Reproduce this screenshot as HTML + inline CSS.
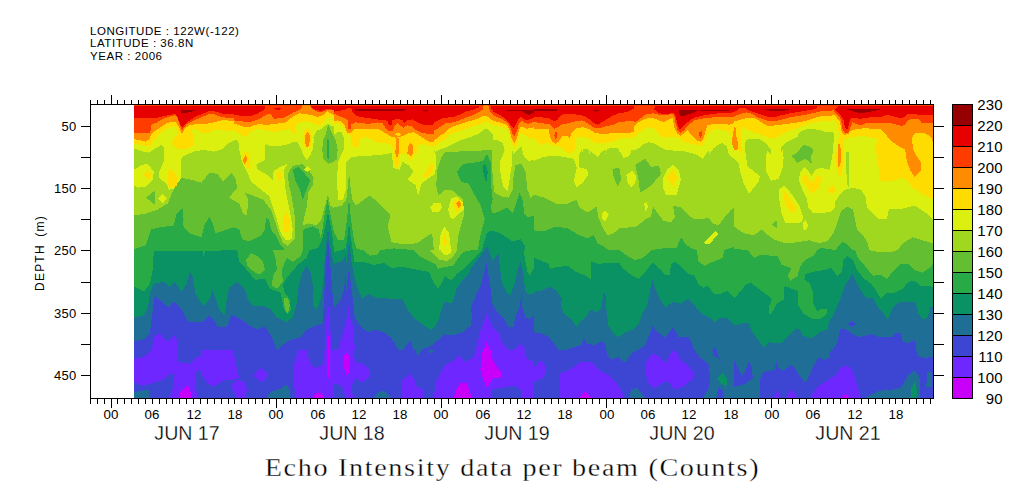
<!DOCTYPE html>
<html><head><meta charset="utf-8"><title>Echo Intensity data per beam (Counts)</title>
<style>
html,body{margin:0;padding:0;background:#fff}
body{width:1009px;height:504px;position:relative;overflow:hidden;font-family:"Liberation Sans",sans-serif;color:#000}
svg{position:absolute;left:0;top:0}
.dl.t,.ttl.t{-webkit-text-stroke:0.3px #fff}
.hdr{position:absolute;left:90px;top:24.6px;font-size:11.5px;line-height:12.7px;white-space:pre;letter-spacing:0.55px}
.cb{position:absolute;left:952.8px;font-size:15px;line-height:14px;width:50px;text-align:right;letter-spacing:0.2px}
.yl{position:absolute;left:26.5px;width:50px;text-align:right;font-size:13px;line-height:14px;letter-spacing:0.3px}
.hl{position:absolute;top:408px;width:30px;text-align:center;font-size:13.3px;line-height:14px;letter-spacing:0.2px}
.dl{position:absolute;top:422.6px;width:100px;text-align:center;font-size:19.6px;line-height:20px;letter-spacing:0px}
.ylab{position:absolute;left:39.5px;top:252.5px;width:0;height:0}
.ylab span{position:absolute;display:block;width:120px;left:-60px;top:-7px;text-align:center;font-size:12px;line-height:14px;transform:rotate(-90deg);letter-spacing:1.2px;word-spacing:3px;white-space:nowrap}
.ttl{position:absolute;left:-100px;top:452.6px;width:1225px;text-align:center;font-family:"Liberation Serif",serif;font-size:24.5px;line-height:30px;letter-spacing:1.44px;white-space:nowrap;transform:scaleX(1.15);transform-origin:612.5px 0}
</style></head><body>
<svg width="1009" height="504" viewBox="0 0 1009 504">
<g shape-rendering="crispEdges">
<rect x="134" y="104" width="800" height="295" fill="#e60000"/>
<rect x="134" y="105" width="800" height="1" fill="#ff3c00"/>
<polygon fill="#ff3c00" points="134.0,117.9 134.0,117.9 156.8,117.9 162.8,116.4 168.7,115.1 175.2,113.9 177.7,117.4 180.6,125.3 182.3,127.0 184.1,125.0 187.6,121.9 193.5,117.9 199.5,114.9 205.4,112.7 209.4,111.1 213.4,111.1 218.3,112.4 223.3,113.9 229.2,114.4 234.0,114.4 234.0,114.7 240.0,115.7 246.9,116.1 252.8,115.4 257.8,113.4 262.8,110.4 265.2,108.5 265.7,104.0 309.4,104.0 312.4,108.0 316.3,110.0 320.3,110.9 325.3,109.5 328.2,108.5 334.0,110.0 334.0,111.7 343.9,110.0 349.9,107.5 351.9,109.0 352.8,112.9 355.8,115.4 360.8,116.9 366.7,117.9 373.7,118.9 380.6,119.9 387.6,120.7 389.1,125.3 391.5,125.3 392.5,120.4 397.5,118.9 402.5,120.4 404.4,123.3 406.9,120.4 412.4,119.4 418.3,122.8 423.3,124.8 429.2,125.0 434.0,124.3 434.0,122.8 439.0,119.9 443.9,117.9 453.8,116.9 459.8,114.4 466.7,111.4 473.7,109.5 478.6,107.5 481.6,104.0 489.6,104.0 491.5,109.0 493.5,111.9 501.5,115.9 507.4,120.4 512.4,127.3 513.9,128.0 516.3,123.8 518.3,118.9 520.8,116.9 523.3,118.9 527.3,120.4 530.7,118.9 534.0,117.4 534.0,116.9 541.9,117.4 548.9,118.4 553.8,120.9 556.8,120.4 559.8,116.9 562.8,114.4 567.7,113.9 575.7,114.4 583.6,115.9 587.6,117.9 593.5,122.8 597.5,124.8 601.5,122.4 607.4,118.9 613.4,115.4 618.3,113.4 627.3,111.9 634.0,108.5 634.0,108.5 635.0,104.0 655.3,104.0 654.3,109.5 657.8,112.4 662.8,114.4 667.7,114.4 672.2,112.4 675.2,114.4 677.2,122.8 679.1,128.8 681.6,128.3 685.6,123.8 689.6,120.9 693.5,117.9 701.5,115.7 709.4,114.4 718.3,113.4 727.3,112.7 734.0,112.4 734.0,112.4 740.0,108.0 744.9,108.0 749.9,110.9 758.8,113.9 766.7,116.4 773.7,117.4 780.6,115.4 789.6,113.4 798.5,111.9 807.4,110.4 816.3,109.0 817.8,104.0 840.9,104.0 835.0,109.2 838.0,112.9 841.9,116.9 843.9,120.9 844.9,127.8 847.4,129.3 848.9,124.8 850.4,118.9 853.8,117.4 859.8,118.9 866.7,117.9 873.7,116.9 878.6,117.4 883.6,115.9 887.6,114.9 893.5,116.4 899.5,117.9 903.4,117.4 907.4,114.4 913.4,113.9 919.3,114.9 925.3,115.4 933.0,115.4 934.0,115.4 934.0,399.0 134.0,399.0"/>
<polygon fill="#ff8c00" points="134.0,132.8 134.0,132.8 148.9,132.8 150.4,132.3 150.9,125.3 152.8,124.3 157.8,121.9 162.8,118.9 168.7,116.9 174.7,115.4 176.7,116.4 178.6,120.9 180.6,127.8 182.1,130.6 183.6,128.3 186.6,124.3 189.6,122.8 195.5,119.9 203.4,116.4 209.4,113.9 213.4,113.9 218.3,115.9 223.3,117.4 229.2,117.9 234.0,118.4 234.0,120.4 239.0,120.9 244.9,121.9 251.9,121.7 256.8,119.9 262.8,116.9 266.7,114.4 270.7,113.9 272.7,116.9 273.7,118.7 278.6,118.4 283.6,117.9 289.6,114.9 293.5,112.4 298.5,110.4 301.5,108.5 302.5,104.0 309.4,104.0 312.4,109.0 316.3,111.4 320.3,112.4 325.3,110.9 328.2,109.5 334.0,110.4 334.0,113.9 339.0,115.9 344.9,118.4 347.9,119.9 348.4,128.8 350.9,129.3 351.4,124.3 354.8,122.4 361.8,122.8 368.7,124.3 373.7,122.8 377.7,122.4 382.6,123.3 385.6,127.8 388.6,131.3 392.5,130.8 394.5,126.3 397.5,123.3 401.5,126.3 403.4,127.8 407.4,125.3 411.4,126.3 416.3,130.3 421.3,132.8 427.3,133.8 434.0,134.3 434.0,130.8 439.0,127.8 443.9,124.3 446.9,122.8 453.8,122.4 458.8,120.4 466.7,117.4 473.7,114.9 478.6,112.4 482.6,109.5 484.1,104.0 488.1,104.0 489.6,110.0 491.5,113.4 495.5,116.4 501.5,118.9 507.4,122.4 510.4,127.8 512.4,133.8 514.4,136.7 516.3,132.8 518.3,125.8 520.3,121.9 521.8,120.9 524.3,122.8 528.2,123.8 532.2,122.4 534.0,121.9 534.0,121.9 540.0,123.3 548.9,123.8 551.9,126.8 554.8,128.8 557.8,127.3 561.8,124.3 568.7,123.3 576.7,120.9 581.6,120.4 585.6,121.9 590.5,125.3 595.5,128.3 599.5,128.3 605.4,126.3 613.4,124.8 618.3,122.4 625.3,121.4 634.0,120.9 634.0,122.4 638.0,120.4 643.9,115.9 646.9,113.9 653.8,113.4 659.8,114.9 666.7,115.4 672.2,113.4 674.7,116.9 675.7,123.8 677.7,130.3 680.1,132.8 683.6,130.8 686.6,126.8 690.5,123.3 694.5,120.4 703.4,118.4 713.4,117.4 723.3,116.9 734.0,116.7 734.0,116.4 740.0,113.9 746.9,112.4 751.9,113.9 758.8,117.9 766.7,120.4 773.7,121.4 780.6,119.9 789.6,117.4 798.5,115.9 807.4,114.4 816.3,112.4 823.3,110.9 834.0,110.4 834.0,111.9 837.0,114.9 840.9,118.9 842.4,128.8 844.9,132.8 847.9,132.8 850.4,127.8 852.4,122.4 856.8,124.3 860.8,125.3 865.7,123.3 873.7,122.8 883.6,122.8 891.5,123.3 897.5,124.8 902.5,126.3 905.4,123.8 908.4,119.9 913.4,118.9 919.3,119.4 921.3,122.8 927.3,123.3 933.0,123.3 934.0,123.3 934.0,399.0 134.0,399.0"/>
<polygon fill="#ffdc00" points="134.0,139.2 134.0,139.2 140.0,140.2 145.9,141.7 149.9,138.7 150.9,134.8 153.8,131.8 159.8,127.8 166.7,123.3 169.7,122.1 175.7,122.4 178.1,125.3 180.6,130.8 182.1,133.8 183.6,130.8 185.6,127.8 189.6,125.3 197.5,123.8 203.4,124.3 209.4,123.3 215.3,121.9 221.3,120.4 227.3,120.4 234.0,121.4 234.0,123.8 240.0,125.3 244.9,127.6 249.9,126.8 253.8,125.3 259.8,123.8 266.7,125.3 273.7,123.8 280.6,123.3 285.6,122.4 289.6,118.9 295.5,114.9 299.5,113.4 305.4,113.9 312.4,115.4 317.3,116.9 321.3,115.9 325.3,113.4 327.8,110.9 329.2,112.4 334.0,114.9 334.0,120.9 338.0,120.4 341.9,121.9 344.9,125.8 346.9,132.8 349.9,133.3 353.8,129.3 359.8,128.8 367.7,129.3 377.7,129.0 381.6,130.8 386.6,133.8 391.5,136.7 395.5,137.7 399.5,137.2 403.4,135.7 409.4,132.8 413.4,132.3 418.3,134.8 423.3,138.2 429.2,141.7 434.0,142.2 434.0,140.7 440.0,135.7 444.9,133.3 446.9,130.3 449.9,127.8 453.8,126.3 459.8,124.3 466.7,121.9 473.7,119.9 479.6,117.9 483.6,115.9 486.1,115.4 488.6,117.4 491.0,119.9 495.5,121.4 501.5,122.8 507.4,125.3 509.4,129.8 511.4,137.7 513.4,142.2 514.9,142.7 516.8,138.7 518.8,130.8 520.8,126.3 523.3,127.3 527.3,128.8 531.2,127.8 534.0,127.3 534.0,128.8 543.9,128.8 548.9,129.3 549.9,136.7 552.4,141.7 555.3,143.7 558.8,141.7 562.3,135.7 566.7,135.7 569.7,137.7 572.2,131.8 576.7,127.8 583.6,127.3 589.6,129.3 595.5,133.3 603.4,133.8 613.4,133.3 623.3,133.3 629.2,132.8 634.0,131.8 634.0,126.6 638.0,122.8 643.9,119.4 648.9,117.9 653.8,118.4 658.8,120.4 663.8,121.9 668.7,119.9 672.7,117.4 673.7,123.8 674.7,128.8 677.7,133.8 680.6,135.7 684.6,132.8 687.6,130.3 689.6,132.8 693.5,136.7 697.5,140.7 700.5,141.7 703.4,138.7 705.4,131.8 707.4,125.3 711.4,124.3 719.3,123.8 726.3,123.8 729.2,125.3 731.2,123.8 734.0,123.3 734.0,121.4 740.0,119.9 746.9,117.9 753.8,117.9 758.8,120.4 763.8,123.8 768.7,126.3 775.7,125.3 783.6,124.3 791.5,123.3 801.5,121.9 809.4,119.9 816.3,117.4 823.3,115.9 834.0,115.4 834.0,114.9 837.0,117.9 840.0,121.9 841.4,130.8 843.9,134.8 847.9,134.3 850.9,130.8 856.8,128.8 865.7,128.3 873.7,128.8 880.6,129.3 884.6,132.8 887.6,136.7 893.5,142.7 899.5,146.7 905.4,149.6 905.6,154.0 907.6,163.9 910.6,170.8 914.6,176.8 921.5,169.8 920.5,161.9 915.5,154.0 913.6,150.0 913.4,149.6 912.4,143.7 912.4,136.7 915.3,133.3 923.3,132.8 929.2,135.7 932.2,138.7 933.0,143.7 934.0,143.7 934.0,399.0 134.0,399.0"/>
<polygon fill="#dcf010" points="134.0,143.7 134.0,143.7 140.0,144.7 145.9,146.2 150.9,145.7 153.8,140.7 159.8,133.8 166.7,128.8 169.7,127.0 173.7,127.0 176.7,128.8 177.7,134.8 173.7,138.7 172.2,142.7 173.7,146.7 178.6,148.6 187.6,148.6 192.5,145.7 194.5,140.7 194.0,134.8 190.5,130.3 192.5,129.3 197.5,129.8 202.5,132.8 207.4,133.3 213.4,130.8 218.3,129.3 223.3,130.3 229.2,130.8 234.0,130.0 234.0,130.8 239.0,132.8 243.9,137.2 246.9,136.2 248.9,133.3 253.8,130.3 258.8,128.8 263.8,129.8 271.7,131.8 278.6,131.3 285.6,129.8 289.6,129.3 292.5,132.8 294.5,133.8 295.0,127.8 297.5,123.3 303.4,121.4 309.4,121.9 316.3,125.3 320.3,125.3 323.3,122.8 326.3,118.9 328.2,116.9 330.7,117.4 334.0,118.9 334.0,124.3 339.0,123.8 341.9,125.3 344.9,129.8 345.9,133.8 349.9,134.8 350.9,136.7 351.4,143.7 354.8,148.1 358.8,145.7 360.8,137.7 366.7,137.2 371.7,139.7 376.7,142.7 383.6,143.2 389.6,143.7 392.5,147.7 393.5,154.0 416.8,154.0 416.8,145.7 423.3,144.2 429.2,145.7 434.0,147.7 434.0,146.7 438.0,143.7 444.9,140.2 448.9,134.8 453.8,133.3 459.8,130.8 466.7,128.8 473.7,126.3 479.6,124.3 483.6,122.4 486.1,120.9 489.6,123.3 493.5,125.3 499.5,126.3 505.4,127.8 508.4,131.8 510.4,138.7 512.4,144.7 514.9,147.2 517.3,143.7 519.3,136.7 521.3,132.8 524.3,134.8 528.2,137.7 534.0,138.2 534.0,137.7 537.0,141.7 541.9,144.7 546.9,143.2 549.9,143.7 553.8,146.2 558.8,146.2 562.8,147.7 566.7,152.6 570.7,153.6 574.7,149.6 575.2,143.7 576.7,137.7 581.6,136.7 587.6,137.7 592.5,141.7 597.5,143.7 605.4,143.2 613.4,141.7 619.3,138.7 627.3,138.2 634.0,137.7 634.0,137.2 638.0,133.8 643.9,128.8 647.9,127.3 653.8,128.8 657.8,132.8 660.8,136.7 666.7,137.7 673.7,136.7 678.6,137.7 682.6,140.7 685.6,143.2 691.5,143.7 697.5,144.7 701.5,146.7 704.4,142.7 706.4,136.7 709.4,132.8 713.4,129.8 718.3,129.3 723.3,129.8 728.2,131.8 731.2,135.7 733.2,143.7 734.0,146.7 741.9,154.0 741.4,143.7 741.4,133.8 741.9,126.3 746.9,129.8 753.8,132.8 759.8,133.8 765.7,136.7 771.7,138.7 775.7,138.2 780.6,134.8 787.6,131.3 795.5,128.8 801.5,126.8 809.4,123.8 816.3,121.9 823.3,120.9 834.0,120.4 834.0,119.9 837.0,123.8 839.0,133.8 838.0,143.7 837.5,154.0 836.2,150.0 835.6,161.9 837.2,171.8 840.2,176.8 842.7,169.8 843.5,150.0 843.9,154.0 843.9,139.7 848.9,137.7 858.8,136.2 868.7,136.7 875.7,138.2 877.7,140.7 874.7,145.7 874.7,154.0 875.9,150.0 877.8,161.9 879.8,175.8 880.8,181.7 892.7,180.8 902.7,177.8 908.6,181.7 912.6,187.7 920.5,192.7 928.4,197.6 933.0,198.6 934.0,198.6 934.0,399.0 134.0,399.0"/>
<polygon fill="#a0d820" points="134.0,148.6 134.0,148.6 141.9,151.2 148.9,152.6 155.8,148.0 161.8,144.7 163.8,147.7 163.8,161.5 158.8,172.5 158.8,177.8 166.7,183.7 168.7,189.7 176.7,188.7 180.6,179.8 180.6,165.9 181.6,157.9 182.6,156.6 193.5,151.6 203.4,150.0 213.4,151.6 221.3,149.6 229.2,142.7 236.2,139.7 239.2,143.7 239.2,150.0 242.1,161.9 247.1,171.8 251.1,181.7 261.0,189.7 268.9,195.6 272.9,207.5 276.9,219.4 280.8,233.3 285.8,240.3 291.7,239.3 292.7,229.4 290.7,215.5 287.8,201.6 285.6,190.0 284.6,179.7 283.6,170.8 287.6,163.8 281.6,166.3 273.7,170.8 272.7,179.7 266.7,174.7 256.8,168.8 256.3,164.8 264.8,159.8 265.2,149.9 265.7,143.0 269.7,146.4 277.7,146.0 285.6,145.0 293.5,142.0 297.5,142.0 301.5,149.9 303.4,154.9 306.9,160.3 310.4,154.9 312.9,148.9 313.9,140.0 313.4,137.7 316.3,130.8 321.3,128.8 325.3,125.3 327.8,123.8 330.7,125.3 334.0,126.3 334.0,134.9 337.6,131.9 341.5,131.9 344.5,139.8 343.5,149.8 338.0,161.9 337.0,179.8 338.0,199.6 342.9,199.6 345.9,189.7 346.3,161.9 351.9,156.9 363.8,156.0 379.6,155.0 391.5,153.0 393.5,167.9 399.5,169.8 402.5,161.9 409.4,165.9 413.4,171.8 407.4,179.8 415.3,184.7 418.3,195.6 421.3,183.7 429.2,177.8 435.2,173.8 436.2,161.9 435.2,150.0 434.0,152.6 440.0,149.6 445.9,147.7 453.8,143.7 459.8,140.7 465.7,138.7 473.7,135.7 478.6,133.8 482.6,130.8 486.1,128.3 489.6,130.8 492.5,133.8 493.5,139.7 498.5,140.7 502.5,142.7 504.4,148.6 504.9,154.0 505.0,150.0 499.7,161.9 500.7,175.8 503.6,187.7 507.6,190.7 509.6,179.8 511.6,165.9 512.6,150.0 513.4,154.0 518.3,149.6 520.8,146.2 522.3,148.6 522.8,154.0 520.5,150.0 522.5,154.0 527.7,160.7 534.0,160.3 534.0,160.9 543.9,156.9 553.8,155.6 563.8,156.9 573.7,158.9 576.7,167.9 573.7,181.7 576.7,187.7 583.6,181.7 588.6,173.8 586.6,168.8 579.6,167.9 578.6,156.0 581.6,150.0 581.6,154.0 583.6,149.1 588.1,148.8 589.6,154.0 590.5,151.0 597.5,156.9 602.5,151.0 605.8,150.0 605.4,154.0 607.4,148.6 618.3,148.1 620.3,154.0 619.7,150.0 623.3,157.9 629.2,156.0 631.6,150.0 634.0,150.6 640.0,147.7 643.9,143.7 648.9,142.2 653.8,143.2 659.8,146.7 665.7,149.6 673.7,150.6 683.6,151.1 689.6,152.6 695.5,154.0 695.5,154.0 699.7,156.9 702.7,158.9 706.6,153.0 709.4,150.0 709.4,154.0 713.4,148.6 718.3,144.7 722.3,143.2 726.3,145.7 728.2,150.6 728.7,154.0 734.0,158.9 739.0,163.9 740.0,171.8 743.9,183.7 748.9,193.7 758.8,181.7 759.8,175.8 746.9,165.9 745.9,150.0 745.4,154.0 744.9,143.7 746.9,139.7 753.8,138.7 759.8,139.2 764.8,142.7 768.7,146.7 771.2,149.6 770.7,154.0 766.7,150.0 765.7,169.8 770.7,180.8 778.6,178.8 782.6,167.9 783.6,157.9 782.6,150.0 780.6,154.0 781.6,146.7 785.6,142.7 791.5,139.7 797.5,136.7 798.5,133.8 803.4,129.8 811.4,128.8 818.3,129.8 825.3,131.8 832.2,132.3 834.0,132.8 833.2,150.0 831.2,161.9 829.2,169.8 821.3,167.9 815.3,169.8 811.4,175.8 807.4,169.8 804.4,166.9 800.5,171.8 798.5,179.8 802.5,189.7 806.4,197.6 808.4,207.5 812.4,212.5 821.3,213.5 831.2,211.5 835.2,207.5 835.2,201.6 839.2,195.6 845.1,189.7 853.0,187.7 861.0,189.7 865.9,197.6 866.9,207.5 872.9,213.5 878.8,219.4 886.8,219.4 888.8,209.5 902.7,208.5 914.6,205.6 922.5,210.5 929.4,215.5 933.0,219.4 934.0,219.4 934.0,399.0 134.0,399.0"/>
<polygon fill="#64be32" points="134.0,215.5 134.0,215.5 145.9,213.5 157.8,209.5 167.7,203.6 171.7,193.7 175.7,185.7 181.6,177.8 191.5,179.8 201.5,182.7 209.4,172.8 217.3,173.8 223.3,181.7 231.2,172.8 235.2,177.8 237.2,187.7 229.2,197.6 239.2,203.6 243.1,213.5 247.1,215.5 248.1,199.6 245.1,192.7 253.0,195.6 263.0,199.6 270.9,209.5 274.9,221.4 278.8,233.3 282.8,242.3 287.8,246.2 294.7,239.3 295.1,219.4 293.1,205.6 291.1,193.7 288.8,183.7 287.8,173.8 292.7,165.9 302.7,163.9 308.6,169.8 313.6,177.8 312.6,185.7 308.6,191.7 307.6,199.6 306.6,207.5 304.6,215.5 302.7,225.4 308.6,223.4 316.5,225.4 321.5,219.4 324.5,207.5 328.0,194.6 330.4,205.6 333.4,207.5 334.0,207.5 341.9,205.6 346.3,199.6 347.9,185.7 349.1,173.0 350.3,185.7 352.3,199.6 355.8,205.6 363.8,199.6 369.7,195.6 379.6,203.6 390.5,215.5 387.6,226.4 391.5,242.3 403.4,244.2 417.3,243.3 428.2,235.3 432.2,233.3 433.2,245.2 434.2,250.0 429.2,250.0 433.2,254.0 439.2,259.9 447.1,260.9 453.0,256.9 457.0,250.0 457.0,250.0 458.0,237.3 461.0,225.4 464.0,215.5 463.0,199.6 453.0,190.7 445.1,189.7 438.2,195.6 436.2,185.7 437.2,169.8 441.1,157.9 445.1,152.0 472.9,151.0 491.9,150.0 492.7,179.8 494.7,192.7 502.7,196.6 508.6,197.6 512.6,189.7 513.6,175.8 515.5,164.9 521.5,163.9 525.5,171.8 527.5,189.7 530.4,197.6 534.0,194.6 534.0,194.6 543.9,197.6 555.8,203.6 567.7,203.6 576.7,199.6 579.6,207.5 587.6,212.5 596.5,206.5 598.5,217.5 602.5,227.4 607.4,235.3 613.4,233.3 619.3,228.4 629.2,227.4 637.2,226.4 645.1,219.4 651.1,216.5 653.0,206.5 657.0,212.5 663.0,220.4 670.9,222.4 674.9,217.5 672.9,205.6 680.8,207.5 686.8,213.5 692.7,218.5 702.7,219.4 708.6,217.5 712.6,223.4 718.5,225.4 724.5,217.5 730.4,210.5 734.0,207.5 734.0,226.4 743.9,233.3 753.8,235.3 761.8,229.4 765.7,233.3 773.7,239.3 785.6,243.3 797.5,242.3 809.4,240.3 819.3,243.3 827.3,241.3 833.2,233.3 837.2,223.4 841.1,211.5 847.1,206.5 853.0,209.5 855.0,219.4 857.0,229.4 863.0,235.3 867.9,243.3 868.9,250.0 868.9,250.0 876.9,251.6 892.7,251.6 897.7,250.0 897.7,250.0 902.7,243.3 912.6,237.3 922.5,240.3 933.0,243.3 934.0,243.3 934.0,399.0 134.0,399.0"/>
<polygon fill="#28aa46" points="134.0,249.2 134.0,249.2 145.9,245.2 150.9,229.4 159.8,227.4 173.7,225.4 176.7,213.5 182.6,208.5 183.6,219.4 182.6,225.4 189.6,233.3 201.5,237.3 204.4,225.4 209.4,216.5 213.4,225.4 215.3,233.3 227.3,229.4 233.2,227.4 239.2,229.4 242.1,239.3 249.1,241.3 261.0,235.3 265.0,229.4 265.9,217.5 268.9,219.4 270.9,229.4 276.9,237.3 280.8,245.2 284.8,250.0 272.9,250.0 275.9,259.9 276.9,269.8 272.9,275.8 271.9,285.7 276.9,288.7 282.8,281.7 281.8,269.8 286.8,257.9 292.7,261.9 300.7,256.0 302.7,250.0 302.7,250.0 302.7,239.3 303.6,229.4 312.6,226.4 318.5,229.4 320.5,237.3 322.0,232.0 324.5,215.0 327.5,200.0 330.5,215.0 334.0,232.0 338.0,240.0 344.0,240.0 347.0,220.0 349.0,198.0 351.0,220.0 354.0,240.0 357.0,249.0 363.8,250.0 369.7,255.6 376.7,255.0 380.6,250.0 393.5,248.4 413.4,250.0 419.3,256.0 427.3,259.9 435.2,263.9 438.2,268.8 445.1,266.9 453.0,265.9 457.0,259.9 463.0,252.0 472.9,250.0 477.8,250.0 477.8,250.0 480.8,233.3 484.8,219.4 480.8,205.6 472.9,191.7 468.9,183.7 461.0,181.7 457.0,171.8 463.0,163.9 472.9,162.9 482.8,160.9 486.8,154.0 490.7,161.9 490.7,181.7 492.7,199.6 490.7,207.5 492.7,213.5 498.7,211.5 506.6,207.5 512.6,213.5 516.5,201.6 519.5,192.7 522.5,199.6 524.5,213.5 527.5,217.5 534.0,215.5 534.0,230.4 543.9,231.3 555.8,226.4 567.7,228.4 579.6,235.3 587.6,238.3 593.5,235.3 597.5,243.3 603.4,246.2 608.4,250.0 608.4,250.0 619.3,250.0 627.3,256.0 635.2,259.9 643.1,257.9 651.1,250.0 663.0,248.4 676.9,248.4 678.8,242.1 681.8,237.1 684.8,244.0 692.7,249.0 696.7,250.0 698.7,261.9 704.6,265.9 712.6,261.9 722.5,257.9 724.5,250.0 734.0,247.0 734.0,249.0 747.9,250.0 753.8,257.9 759.8,255.0 777.7,256.0 781.6,264.9 791.5,267.9 787.6,275.8 790.5,280.8 797.5,275.8 800.5,265.9 805.4,259.9 813.4,256.0 817.3,250.0 821.3,248.0 835.2,250.0 835.2,250.0 843.1,241.3 853.0,250.0 855.0,250.0 858.0,257.9 865.0,265.9 872.9,275.8 880.8,274.8 886.8,278.8 892.7,271.8 900.7,263.9 908.6,263.9 914.6,269.8 922.5,272.8 929.4,267.9 933.0,263.9 934.0,263.9 934.0,399.0 134.0,399.0"/>
<polygon fill="#0a9164" points="134.0,286.7 134.0,286.7 143.9,291.7 149.9,283.7 152.8,269.8 153.8,251.0 202.5,251.0 203.4,256.9 205.0,251.0 237.2,250.0 239.2,261.9 245.1,267.9 255.0,279.8 265.0,278.8 269.9,288.7 280.8,292.7 283.8,309.5 287.8,314.5 290.7,309.5 289.8,299.6 284.8,292.7 282.8,285.7 286.8,277.8 298.7,263.9 306.6,257.9 309.6,250.0 318.0,248.0 322.0,240.0 325.5,225.0 328.0,212.0 330.5,225.0 333.0,240.0 334.0,251.0 334.0,252.0 338.0,251.0 342.9,250.0 344.9,248.0 345.5,250.0 347.5,236.0 349.0,222.0 350.5,236.0 353.5,255.0 353.8,261.9 363.8,261.9 373.7,264.9 383.6,262.9 391.5,267.9 403.4,266.9 417.3,269.8 429.2,271.8 433.2,281.7 438.2,288.7 442.1,281.7 445.1,275.8 451.1,280.8 457.0,273.8 465.0,267.9 472.9,259.9 480.8,252.0 481.8,250.0 481.8,250.0 486.8,233.3 490.7,230.4 500.7,233.3 512.6,241.3 520.5,239.3 524.5,245.2 525.5,250.0 523.5,250.0 525.5,261.9 527.5,271.8 530.4,275.8 532.4,269.8 534.0,268.3 534.0,257.9 541.9,260.9 548.9,263.9 549.9,268.8 557.8,266.9 567.7,265.9 575.7,271.8 583.6,274.8 590.5,278.8 591.5,269.8 590.5,260.9 597.5,263.9 609.4,262.9 619.3,262.9 623.3,268.8 631.2,274.8 638.2,278.8 643.1,274.8 649.1,266.9 653.0,262.9 661.0,269.8 665.0,274.8 669.9,274.8 670.9,263.9 674.9,261.9 680.8,265.9 688.8,273.8 694.7,275.8 698.7,284.7 703.6,287.7 707.6,285.7 711.6,290.7 714.6,294.6 720.5,293.7 727.5,290.7 734.0,297.6 734.0,298.6 740.0,291.7 745.9,284.7 750.9,282.7 759.8,289.7 767.7,295.6 771.7,299.6 768.7,307.5 769.7,315.5 773.7,309.5 776.7,303.6 783.6,299.6 784.6,285.7 791.5,288.7 797.5,290.7 798.5,305.6 803.4,313.5 813.4,319.4 821.3,318.5 827.3,313.5 827.3,308.5 821.3,308.5 817.3,311.5 813.4,303.6 812.4,289.7 809.4,282.7 804.4,279.8 805.4,273.8 813.4,271.8 825.3,269.8 831.2,267.9 837.2,275.8 842.1,271.8 843.1,259.9 847.1,256.0 853.0,259.9 857.0,269.8 863.0,277.8 870.9,283.7 876.9,291.7 880.8,298.6 886.8,292.7 894.7,292.7 902.7,288.7 908.6,281.7 914.6,280.8 920.5,285.7 933.0,286.7 934.0,286.7 934.0,399.0 134.0,399.0"/>
<polygon fill="#1e6e96" points="134.0,317.5 134.0,317.5 143.9,315.5 147.9,307.5 149.9,293.7 153.8,283.7 163.8,281.7 169.7,286.7 174.7,281.7 181.6,291.7 186.6,283.7 189.6,271.8 192.5,275.8 195.5,293.7 203.4,306.5 210.4,297.6 212.4,289.7 215.3,297.6 219.3,309.5 224.3,315.5 227.3,297.6 229.2,287.7 237.2,281.7 245.1,289.7 248.1,299.6 253.0,305.6 263.0,305.6 270.9,309.5 276.9,317.5 286.8,322.4 292.7,317.5 296.7,303.6 298.7,285.7 302.7,271.8 306.6,265.9 310.6,271.8 313.6,289.7 312.6,305.6 316.5,309.5 320.5,299.6 322.5,285.7 324.1,269.8 324.5,262.0 326.0,245.0 328.0,228.0 330.0,245.0 332.0,256.0 334.0,264.0 334.0,263.9 340.0,261.9 343.9,258.9 345.9,254.0 346.5,262.0 349.0,241.0 351.5,262.0 354.0,275.0 356.8,285.7 361.8,298.6 368.7,293.7 375.7,297.6 389.6,298.6 403.4,299.6 406.4,307.5 413.4,317.5 421.3,323.4 431.2,330.4 437.2,323.4 439.2,317.5 444.1,301.6 452.1,303.6 457.0,287.7 463.0,279.8 468.9,273.8 470.9,267.9 478.8,257.9 484.8,250.0 486.8,246.0 488.8,250.0 492.7,261.9 494.7,257.9 498.7,254.0 499.7,265.9 501.7,281.7 506.6,292.7 510.6,294.6 514.6,283.7 517.5,269.8 520.5,261.9 523.5,273.8 524.9,289.7 527.5,293.7 534.0,294.0 534.0,291.7 541.9,290.7 549.9,286.7 555.8,289.7 561.8,298.6 560.8,305.6 563.8,313.5 571.7,319.4 576.7,327.4 578.6,323.4 585.6,317.5 590.5,309.5 596.5,312.5 601.5,307.5 603.4,292.7 605.4,293.7 606.4,309.5 608.4,325.4 613.4,333.3 618.3,337.3 625.3,332.3 633.2,329.4 639.2,323.4 642.1,313.5 647.1,305.6 650.1,289.7 652.5,279.8 655.0,287.7 661.0,301.6 665.9,307.5 672.9,301.6 680.8,303.6 687.8,298.6 694.7,305.6 702.7,314.5 710.6,318.5 715.5,322.4 720.5,317.5 727.5,318.5 734.0,324.4 734.0,325.4 741.9,323.4 748.9,323.4 751.9,331.3 757.8,339.3 763.8,347.2 769.7,342.3 781.6,343.3 789.6,335.3 795.5,328.4 799.5,329.4 802.5,335.3 812.4,338.3 819.3,332.3 827.3,329.4 829.2,321.4 833.2,315.5 839.2,301.6 845.1,285.7 852.5,273.8 857.0,283.7 863.0,293.7 866.9,298.6 872.9,297.6 876.9,305.6 881.8,311.5 887.8,319.4 892.7,307.5 898.7,302.6 908.6,301.6 915.5,301.6 918.5,313.5 922.5,319.4 927.5,317.5 930.4,307.5 933.0,306.5 934.0,306.5 934.0,399.0 134.0,399.0"/>
<polygon fill="#3c46d2" points="134.0,341.3 134.0,341.3 143.9,339.3 149.9,333.3 151.9,317.5 154.8,295.6 161.8,301.6 168.7,307.5 173.7,301.6 181.6,309.5 187.6,321.4 201.5,322.4 209.4,315.5 215.3,321.4 217.3,327.4 227.3,326.4 231.2,314.5 241.1,319.4 249.1,325.4 257.0,329.4 265.0,326.4 270.9,335.3 274.9,345.2 276.9,350.0 277.3,350.0 284.8,343.3 292.7,339.3 300.7,337.3 306.6,329.4 316.5,325.4 322.5,323.4 323.5,309.5 324.0,300.0 326.0,262.0 328.0,238.0 330.0,262.0 333.0,300.0 334.0,307.5 340.0,301.6 343.9,289.7 345.9,273.8 346.5,290.0 349.0,268.0 351.5,290.0 353.0,300.0 354.8,317.5 359.8,325.4 367.7,332.3 375.7,329.4 385.6,333.3 391.5,338.3 395.5,345.2 398.5,350.0 402.5,350.0 410.4,340.3 413.4,350.0 421.3,350.0 427.3,347.2 433.2,344.2 439.2,339.3 444.1,334.3 453.0,335.3 463.0,332.3 470.9,325.4 471.9,315.5 470.9,307.5 474.9,297.6 480.8,285.7 484.8,269.8 486.4,261.9 487.8,269.8 490.7,289.7 492.7,305.6 498.7,313.5 504.6,319.4 508.6,327.4 513.6,326.4 515.5,315.5 519.5,307.5 521.5,293.7 522.5,307.5 525.5,317.5 529.4,319.4 534.0,315.5 534.0,332.3 541.9,333.3 547.9,336.3 553.8,343.3 558.8,350.0 566.7,350.0 573.7,347.2 581.6,345.2 583.6,337.3 586.6,343.3 593.5,345.2 601.5,341.3 605.4,343.3 605.8,350.0 638.2,350.0 645.1,345.2 649.1,335.3 652.5,326.4 657.0,331.3 665.0,338.3 672.9,327.4 678.8,337.3 688.8,337.3 692.7,345.2 693.7,350.0 713.6,350.0 715.0,346.2 716.5,350.0 734.0,398.0 759.8,398.0 759.8,379.7 763.7,371.8 774.6,369.8 776.6,361.9 778.6,368.8 783.6,370.8 790.5,364.9 793.5,365.9 799.4,375.8 805.4,382.7 809.3,375.8 813.3,365.9 819.2,356.9 824.2,359.9 829.1,357.9 831.1,350.0 832.2,350.0 837.2,343.3 840.2,329.4 844.1,328.4 851.1,333.3 859.0,337.3 870.9,334.3 880.8,337.3 892.7,337.3 894.7,333.3 900.7,333.3 902.7,341.3 908.6,343.3 914.6,340.3 916.5,345.2 915.5,350.0 916.4,350.0 917.3,355.9 924.3,357.9 932.8,356.9 934.0,356.9 934.0,399.0 134.0,399.0"/>
<polygon fill="#6e28ff" points="151.9,350.0 153.8,337.3 159.8,333.3 165.7,340.3 169.7,341.3 173.7,335.3 176.7,339.3 177.7,350.0"/>
<polygon fill="#6e28ff" points="338.0,350.0 343.9,329.4 346.9,317.5 348.3,305.6 349.9,317.5 353.8,329.4 354.8,350.0"/>
<polygon fill="#6e28ff" points="475.9,350.0 480.8,329.4 486.8,313.5 492.7,327.4 498.7,333.3 502.7,343.3 508.6,350.0"/>
<polygon fill="#6e28ff" points="513.6,350.0 520.5,344.2 526.5,350.0"/>
<polygon fill="#960000" points="181.1,109.5 198.5,109.5 193.5,110.9 185.6,113.4 181.1,112.9"/>
<polygon fill="#e60000" points="274.2,108.5 278.6,107.2 281.6,109.0 277.7,110.4"/>
<polygon fill="#ffdc00" points="307.4,127.8 310.9,130.8 312.4,137.7 310.9,145.7 307.4,148.6 304.4,145.7 302.5,137.7 303.9,130.8"/>
<polygon fill="#ff8c00" points="307.4,131.8 309.6,134.8 309.9,140.7 308.4,146.7 306.9,147.7 305.4,143.7 304.9,135.7"/>
<polygon fill="#960000" points="354.8,109.0 407.4,109.0 403.4,110.9 355.3,110.9"/>
<polygon fill="#960000" points="421.3,109.5 429.2,109.5 425.3,111.9"/>
<polygon fill="#ffdc00" points="395.0,134.3 398.0,132.3 401.5,134.3 398.0,136.7"/>
<polygon fill="#960000" points="506.4,109.5 534.0,109.5 534.0,112.7 529.2,114.9 525.3,113.4 521.3,110.4 518.3,111.4 506.4,111.4"/>
<polygon fill="#960000" points="534.0,109.0 557.8,109.0 556.3,110.9 534.0,110.9"/>
<polygon fill="#960000" points="590.5,109.5 601.5,109.5 596.5,111.9"/>
<polygon fill="#ff3c00" points="555.8,130.8 557.3,133.8 556.8,138.2 555.3,139.7 554.3,135.7"/>
<polygon fill="#960000" points="678.6,109.5 699.5,109.5 693.5,112.9 680.6,116.7 679.1,112.9"/>
<polygon fill="#960000" points="699.5,109.5 731.2,109.5 727.3,111.4 699.5,111.1"/>
<polygon fill="#ff3c00" points="699.0,132.8 701.5,131.3 702.5,134.8 700.5,137.7 699.0,135.7"/>
<polygon fill="#960000" points="762.8,109.0 790.5,109.0 783.6,110.9 770.7,110.9"/>
<polygon fill="#960000" points="845.9,109.0 882.6,109.0 873.7,110.9 861.8,113.4 856.8,112.4"/>
<polygon fill="#dcf010" points="134.0,169.8 141.9,164.9 147.9,163.9 153.8,171.8 152.8,179.8 145.9,186.7 138.0,187.7 134.0,185.7"/>
<polygon fill="#ffdc00" points="143.9,174.8 147.9,169.8 151.9,174.8 147.9,179.8"/>
<polygon fill="#ffdc00" points="167.7,171.8 170.7,168.8 176.7,175.8 176.7,185.7 168.7,188.7"/>
<polygon fill="#dcf010" points="157.8,198.6 162.8,193.7 166.7,198.6 162.8,203.6"/>
<polygon fill="#64be32" points="145.9,197.6 154.8,190.7 154.8,204.6"/>
<polygon fill="#ffdc00" points="245.4,150.4 248.9,154.9 249.9,164.8 252.4,168.8 248.9,168.8 243.9,164.8 241.4,157.9"/>
<polygon fill="#ff8c00" points="245.4,154.9 247.4,158.8 244.9,164.3 242.9,160.8"/>
<polygon fill="#ffdc00" points="279.1,169.8 281.6,174.7 279.6,181.7 276.2,175.7"/>
<polygon fill="#ffdc00" points="285.8,210.5 289.8,219.4 288.8,231.3 284.8,233.3 282.8,223.4"/>
<polygon fill="#dcf010" points="303.9,169.3 307.4,166.3 310.9,169.3 307.4,172.2"/>
<polygon fill="#64be32" points="612.4,168.8 619.3,167.9 621.3,179.8 617.3,186.7 613.4,175.8"/>
<polygon fill="#dcf010" points="626.3,174.8 632.2,170.8 636.2,175.8 635.2,183.7 631.2,187.7 627.3,181.7"/>
<polygon fill="#64be32" points="635.2,164.9 645.1,158.9 651.1,166.9 659.0,165.9 661.0,173.8 651.1,185.7 640.2,192.7 638.2,177.8"/>
<polygon fill="#dcf010" points="663.0,177.8 666.9,169.8 672.9,164.9 678.8,169.8 680.8,179.8 676.9,194.6 665.9,194.6 663.0,187.7"/>
<polygon fill="#ffdc00" points="666.9,177.8 672.9,169.8 677.3,177.8 672.9,186.7"/>
<polygon fill="#dcf010" points="644.1,203.6 646.7,202.0 648.1,207.5 645.5,211.1"/>
<polygon fill="#dcf010" points="601.5,213.5 605.4,210.5 609.0,214.5 605.4,221.4 602.5,219.4"/>
<polygon fill="#dcf010" points="703.6,243.3 715.5,231.3 718.5,233.3 709.6,244.2"/>
<polygon fill="#ff8c00" points="838.2,150.0 841.1,150.0 840.7,161.9 838.8,168.8 837.6,161.9"/>
<polygon fill="#ff8c00" points="838.5,143.7 840.4,143.7 840.7,154.0 838.2,154.0"/>
<polygon fill="#ff8c00" points="734.0,127.3 736.0,127.8 736.5,136.7 738.0,143.7 737.5,149.6 734.0,150.6"/>
<polygon fill="#ff8c00" points="734.0,128.8 732.7,133.8 732.2,143.7 734.0,149.6"/>
<polygon fill="#dcf010" points="778.6,189.7 784.6,185.7 791.5,193.7 799.5,205.6 803.4,217.5 801.5,222.4 785.6,223.4 781.6,213.5 779.6,201.6"/>
<polygon fill="#ffdc00" points="782.6,189.7 787.6,195.6 796.5,208.5 791.5,213.5 785.6,205.6"/>
<polygon fill="#dcf010" points="802.5,223.4 805.4,219.4 808.4,225.4 805.4,230.4 802.5,228.4"/>
<polygon fill="#ffdc00" points="801.5,177.8 806.4,174.8 811.4,183.7 817.3,175.8 821.3,177.8 819.3,187.7 812.4,194.6 806.4,185.7"/>
<polygon fill="#ffdc00" points="827.3,190.7 832.2,184.7 836.2,189.7 832.2,194.6"/>
<polygon fill="#a0d820" points="846.1,152.0 848.7,152.0 849.1,187.7 846.7,183.7"/>
<polygon fill="#64be32" points="791.5,156.0 801.5,150.0 813.4,150.0 810.4,157.9 812.4,163.9 805.4,158.9 797.5,162.9"/>
<polygon fill="#64be32" points="795.5,154.0 803.4,145.2 807.4,145.7 813.4,149.1 812.4,154.0"/>
<polygon fill="#64be32" points="771.7,224.4 776.7,220.4 776.7,228.4"/>
<polygon fill="#64be32" points="322.2,149.8 323.2,139.8 325.7,134.9 327.7,126.0 328.6,124.5 330.6,129.9 335.6,139.8 337.6,149.8 336.6,159.7 333.6,161.7 328.6,163.7 323.7,159.7"/>
<polygon fill="#28aa46" points="326.5,139.8 328.1,137.9 329.4,144.8 329.1,158.7 327.7,159.7 326.7,152.7"/>
<polygon fill="#64be32" points="246.1,259.9 251.1,253.0 257.0,256.0 263.0,261.9 265.0,269.8 259.0,274.8 251.1,269.8 247.1,265.9"/>
<polygon fill="#64be32" points="283.8,298.6 287.8,297.6 289.8,305.6 287.8,313.5 284.8,309.5"/>
<polygon fill="#dcf010" points="440.2,250.0 444.1,255.0 449.1,254.4 452.7,250.0"/>
<polygon fill="#dcf010" points="439.2,250.0 440.2,235.3 444.1,226.4 449.1,233.3 451.1,250.0"/>
<polygon fill="#ffdc00" points="443.1,237.3 445.5,233.3 447.1,243.3 444.7,247.2"/>
<polygon fill="#0a9164" points="482.8,165.9 485.8,163.9 487.8,171.8 486.4,181.7 483.8,175.8"/>
<polygon fill="#c800fa" points="483.8,350.0 486.8,341.3 489.8,350.0"/>
<polygon fill="#3c46d2" points="848.1,323.4 852.5,321.0 856.0,324.4 852.1,327.0"/>
<polygon fill="#6e28ff" points="134.0,358.9 143.9,356.9 151.8,350.0 177.6,350.0 176.6,361.9 191.5,363.9 193.5,359.9 201.4,355.9 201.4,350.0 233.1,350.0 237.1,369.8 239.1,377.8 233.1,379.7 225.2,379.7 213.3,386.7 207.3,383.7 202.4,375.8 199.4,368.8 195.4,373.8 196.4,389.6 197.4,398.0 169.7,398.0 173.6,385.7 174.6,373.8 169.7,373.8 163.7,379.7 153.8,382.7 141.9,385.7 134.0,381.7"/>
<polygon fill="#6e28ff" points="252.9,375.8 260.9,367.8 268.8,373.8 262.8,382.7"/>
<polygon fill="#6e28ff" points="231.1,385.7 237.1,379.7 245.0,381.7 247.0,389.6 245.0,398.0 237.1,398.0"/>
<polygon fill="#6e28ff" points="298.5,350.0 306.4,350.0 309.4,361.9 314.4,367.8 322.3,365.9 324.3,350.0 333.8,350.0 333.8,398.0 296.5,398.0 292.6,379.7 293.6,365.9"/>
<polygon fill="#c800fa" points="179.6,398.0 180.6,391.6 187.5,384.7 190.5,391.6 190.5,398.0"/>
<polygon fill="#c800fa" points="312.4,398.0 316.4,392.6 321.3,393.6 324.3,398.0"/>
<polygon fill="#1e6e96" points="266.8,398.0 270.8,391.6 280.7,388.7 286.6,384.7 289.6,389.6 290.6,398.0"/>
<polygon fill="#1e6e96" points="134.0,398.0 134.0,392.6 141.9,390.6 148.9,389.6 149.9,398.0"/>
<polygon fill="#6e28ff" points="334.0,350.0 353.8,350.0 354.8,361.9 363.7,363.9 369.7,369.8 368.7,377.8 361.8,382.7 355.8,377.8 351.8,385.7 352.8,398.0 345.9,398.0 341.9,385.7 334.0,383.7"/>
<polygon fill="#6e28ff" points="402.4,379.7 410.3,373.8 414.3,379.7 417.3,387.7 423.2,388.7 424.2,398.0 402.4,398.0"/>
<polygon fill="#6e28ff" points="434.1,398.0 435.1,383.7 441.0,371.8 445.0,364.9 454.9,359.9 458.9,355.0 464.8,361.9 472.8,357.9 476.7,350.0 524.3,350.0 527.3,359.9 533.8,360.9 533.8,398.0"/>
<polygon fill="#3c46d2" points="490.6,398.0 492.6,389.6 502.5,387.7 514.4,385.7 520.3,388.7 522.3,398.0"/>
<polygon fill="#c800fa" points="343.9,355.9 347.9,352.0 349.9,361.9 348.9,371.8 346.9,376.8 344.3,367.8"/>
<polygon fill="#c800fa" points="482.7,350.0 490.6,350.0 492.6,359.9 498.5,368.8 502.5,373.8 501.5,377.8 492.6,378.7 486.6,387.7 482.7,377.8 480.3,369.8"/>
<polygon fill="#c800fa" points="453.9,398.0 455.9,389.6 460.9,382.7 466.8,382.7 469.8,391.6 471.8,398.0"/>
<polygon fill="#1e6e96" points="373.6,398.0 377.6,392.6 383.6,390.6 388.5,394.6 390.5,398.0"/>
<polygon fill="#1e6e96" points="415.3,350.0 418.2,356.9 421.2,350.0"/>
<polygon fill="#1e6e96" points="427.2,350.0 431.1,354.0 434.1,350.0"/>
<polygon fill="#1e6e96" points="606.3,350.0 637.1,350.0 631.1,354.0 625.2,362.9 618.2,356.9 611.3,359.9 607.3,355.0"/>
<polygon fill="#1e6e96" points="694.6,350.0 712.4,350.0 713.4,355.9 718.3,357.9 720.3,361.9 730.2,367.8 733.8,375.8 733.8,398.0 724.3,398.0 722.3,389.6 718.3,387.7 716.4,398.0 702.5,398.0 708.4,389.6 710.4,379.7 708.4,363.9 700.5,357.9"/>
<polygon fill="#1e6e96" points="629.1,398.0 631.1,389.6 637.1,387.7 645.0,398.0"/>
<polygon fill="#0a9164" points="717.3,378.7 722.3,372.8 727.3,378.7 726.3,386.7 721.3,383.7"/>
<polygon fill="#6e28ff" points="534.0,367.8 541.9,359.9 545.9,367.8 543.9,377.8 534.0,381.7"/>
<polygon fill="#6e28ff" points="559.8,398.0 559.8,373.8 570.7,368.8 580.6,361.9 591.5,361.9 597.4,368.8 609.3,375.8 617.3,383.7 621.2,389.6 624.2,398.0"/>
<polygon fill="#6e28ff" points="645.0,363.9 652.9,353.0 660.9,357.9 665.8,362.9 672.8,350.0 676.7,352.0 681.7,361.9 686.6,363.9 693.6,372.8 692.6,378.7 684.6,385.7 674.7,389.6 668.8,381.7 662.8,382.7 654.9,388.7 647.0,381.7"/>
<polygon fill="#c800fa" points="579.6,398.0 584.5,391.6 590.5,396.6 592.5,398.0"/>
<polygon fill="#3c46d2" points="734.0,359.9 738.0,367.8 741.9,375.8 745.9,369.8 748.9,360.9 751.8,367.8 752.8,377.8 745.9,383.7 739.9,385.7 734.0,386.7"/>
<polygon fill="#1e6e96" points="864.8,398.0 872.8,393.6 880.7,390.6 892.6,389.6 900.5,387.7 904.5,381.7 907.4,375.8 914.4,370.8 919.3,375.8 920.3,389.6 920.3,398.0"/>
<polygon fill="#1e6e96" points="926.3,386.7 927.3,371.8 932.2,372.8 932.2,386.7"/>
<polygon fill="#0a9164" points="910.4,398.0 911.4,387.7 915.4,380.7 916.8,389.6 916.4,398.0"/>
<polygon fill="#6e28ff" points="810.3,398.0 813.3,392.6 819.2,385.7 827.2,380.7 837.1,373.8 840.0,367.8 846.0,365.9 851.9,368.8 854.9,377.8 857.9,387.7 860.9,398.0"/>
<polygon fill="#6e28ff" points="773.6,398.0 777.2,389.6 780.6,398.0"/>
<polygon fill="#6e28ff" points="786.5,398.0 791.5,388.7 797.4,398.0"/>
<polygon fill="#c800fa" points="841.0,398.0 845.4,394.0 849.0,398.0"/>
<polygon fill="#28aa46" points="292.7,169.8 298.7,166.9 306.6,175.8 310.6,179.8 306.6,189.7 302.7,199.6 299.7,189.7 295.7,181.7"/>
<polygon fill="#dcf010" points="448.1,209.5 451.1,198.6 457.0,196.6 463.0,202.6 464.0,209.5 457.0,215.5 453.0,219.4 450.1,217.5"/>
<polygon fill="#ffdc00" points="453.0,201.6 459.0,198.6 462.6,204.6 460.0,210.5 455.4,211.5"/>
<polygon fill="#ff8c00" points="456.0,203.6 459.4,200.6 461.4,204.6 458.6,207.9"/>
<polygon fill="#dcf010" points="430.2,207.5 434.2,202.6 440.2,202.6 442.1,207.5 438.2,212.5 432.2,211.9"/>
<polygon fill="#ffdc00" points="392.5,150.0 400.5,150.0 399.5,161.9 397.1,169.8 393.5,163.9"/>
<polygon fill="#ff8c00" points="395.1,150.0 398.5,150.0 397.5,156.9 395.9,156.9"/>
<polygon fill="#ffdc00" points="405.4,150.0 414.4,150.0 413.4,156.9 410.4,159.9 407.0,156.0"/>
<polygon fill="#ff8c00" points="407.4,150.0 413.0,150.0 411.4,156.0 409.0,155.0"/>
<polygon fill="#ffdc00" points="423.3,175.8 428.2,168.8 431.2,162.9 433.2,164.9 432.2,171.8 426.3,177.8"/>
<polygon fill="#ff8c00" points="407.4,154.0 407.9,146.7 410.4,143.2 412.9,145.7 413.4,154.0"/>
<polygon fill="#ff8c00" points="395.5,137.7 399.0,137.7 398.5,154.0 396.0,154.0"/>
<polygon fill="#6e28ff" points="325.0,352.0 326.0,320.0 328.0,303.0 330.0,320.0 331.5,352.0"/>
<polygon fill="#c800fa" points="326.5,378.0 327.0,345.0 328.0,332.0 329.5,345.0 330.0,378.0"/>
</g>
<path d="M90.5,104.5H933.5V398.5H90.5Z" fill="none" stroke="#000" stroke-width="1" shape-rendering="crispEdges"/>
<path d="M90.5,100V104M90.5,399V404M97.5,100V104M97.5,399V404M104.5,100V104M104.5,399V404M111.5,95V104M111.5,399V408M117.5,100V104M117.5,399V404M124.5,100V104M124.5,399V404M131.5,100V104M131.5,399V404M138.5,100V104M138.5,399V404M145.5,100V104M145.5,399V404M152.5,100V104M152.5,399V404M159.5,100V104M159.5,399V404M166.5,100V104M166.5,399V404M172.5,100V104M172.5,399V404M179.5,100V104M179.5,399V404M186.5,100V104M186.5,399V404M193.5,100V104M193.5,399V404M200.5,100V104M200.5,399V404M207.5,100V104M207.5,399V404M214.5,100V104M214.5,399V404M221.5,100V104M221.5,399V404M228.5,100V104M228.5,399V404M234.5,100V104M234.5,399V404M241.5,100V104M241.5,399V404M248.5,100V104M248.5,399V404M255.5,100V104M255.5,399V404M262.5,100V104M262.5,399V404M269.5,100V104M269.5,399V404M276.5,95V104M276.5,399V408M283.5,100V104M283.5,399V404M290.5,100V104M290.5,399V404M296.5,100V104M296.5,399V404M303.5,100V104M303.5,399V404M310.5,100V104M310.5,399V404M317.5,100V104M317.5,399V404M324.5,100V104M324.5,399V404M331.5,100V104M331.5,399V404M338.5,100V104M338.5,399V404M345.5,100V104M345.5,399V404M351.5,100V104M351.5,399V404M358.5,100V104M358.5,399V404M365.5,100V104M365.5,399V404M372.5,100V104M372.5,399V404M379.5,100V104M379.5,399V404M386.5,100V104M386.5,399V404M393.5,100V104M393.5,399V404M400.5,100V104M400.5,399V404M407.5,100V104M407.5,399V404M413.5,100V104M413.5,399V404M420.5,100V104M420.5,399V404M427.5,100V104M427.5,399V404M434.5,100V104M434.5,399V404M441.5,95V104M441.5,399V408M448.5,100V104M448.5,399V404M455.5,100V104M455.5,399V404M462.5,100V104M462.5,399V404M469.5,100V104M469.5,399V404M475.5,100V104M475.5,399V404M482.5,100V104M482.5,399V404M489.5,100V104M489.5,399V404M496.5,100V104M496.5,399V404M503.5,100V104M503.5,399V404M510.5,100V104M510.5,399V404M517.5,100V104M517.5,399V404M524.5,100V104M524.5,399V404M530.5,100V104M530.5,399V404M537.5,100V104M537.5,399V404M544.5,100V104M544.5,399V404M551.5,100V104M551.5,399V404M558.5,100V104M558.5,399V404M565.5,100V104M565.5,399V404M572.5,100V104M572.5,399V404M579.5,100V104M579.5,399V404M586.5,100V104M586.5,399V404M592.5,100V104M592.5,399V404M599.5,100V104M599.5,399V404M606.5,95V104M606.5,399V408M613.5,100V104M613.5,399V404M620.5,100V104M620.5,399V404M627.5,100V104M627.5,399V404M634.5,100V104M634.5,399V404M641.5,100V104M641.5,399V404M648.5,100V104M648.5,399V404M654.5,100V104M654.5,399V404M661.5,100V104M661.5,399V404M668.5,100V104M668.5,399V404M675.5,100V104M675.5,399V404M682.5,100V104M682.5,399V404M689.5,100V104M689.5,399V404M696.5,100V104M696.5,399V404M703.5,100V104M703.5,399V404M709.5,100V104M709.5,399V404M716.5,100V104M716.5,399V404M723.5,100V104M723.5,399V404M730.5,100V104M730.5,399V404M737.5,100V104M737.5,399V404M744.5,100V104M744.5,399V404M751.5,100V104M751.5,399V404M758.5,100V104M758.5,399V404M765.5,100V104M765.5,399V404M771.5,95V104M771.5,399V408M778.5,100V104M778.5,399V404M785.5,100V104M785.5,399V404M792.5,100V104M792.5,399V404M799.5,100V104M799.5,399V404M806.5,100V104M806.5,399V404M813.5,100V104M813.5,399V404M820.5,100V104M820.5,399V404M827.5,100V104M827.5,399V404M833.5,100V104M833.5,399V404M840.5,100V104M840.5,399V404M847.5,100V104M847.5,399V404M854.5,100V104M854.5,399V404M861.5,100V104M861.5,399V404M868.5,100V104M868.5,399V404M875.5,100V104M875.5,399V404M882.5,100V104M882.5,399V404M889.5,100V104M889.5,399V404M895.5,100V104M895.5,399V404M902.5,100V104M902.5,399V404M909.5,100V104M909.5,399V404M916.5,100V104M916.5,399V404M923.5,100V104M923.5,399V404M930.5,100V104M930.5,399V404" fill="none" stroke="#000" stroke-width="1" shape-rendering="crispEdges"/>
<path d="M81,126.5H90M934,126.5H944M81,157.5H90M934,157.5H944M81,188.5H90M934,188.5H944M81,219.5H90M934,219.5H944M81,250.5H90M934,250.5H944M81,282.5H90M934,282.5H944M81,313.5H90M934,313.5H944M81,344.5H90M934,344.5H944M81,375.5H90M934,375.5H944" fill="none" stroke="#000" stroke-width="1" shape-rendering="crispEdges"/>
<rect x="952" y="104" width="20" height="21" fill="#960000"/>
<rect x="952" y="125" width="20" height="21" fill="#e60000"/>
<rect x="952" y="146" width="20" height="21" fill="#ff3c00"/>
<rect x="952" y="167" width="20" height="21" fill="#ff8c00"/>
<rect x="952" y="188" width="20" height="21" fill="#ffdc00"/>
<rect x="952" y="209" width="20" height="21" fill="#dcf010"/>
<rect x="952" y="230" width="20" height="21" fill="#a0d820"/>
<rect x="952" y="251" width="20" height="21" fill="#64be32"/>
<rect x="952" y="272" width="20" height="21" fill="#28aa46"/>
<rect x="952" y="293" width="20" height="21" fill="#0a9164"/>
<rect x="952" y="314" width="20" height="21" fill="#1e6e96"/>
<rect x="952" y="335" width="20" height="21" fill="#3c46d2"/>
<rect x="952" y="356" width="20" height="21" fill="#6e28ff"/>
<rect x="952" y="377" width="20" height="21" fill="#c800fa"/>
<path d="M952.5,104.5H972.5V398.5H952.5ZM952,125.5H973M952,146.5H973M952,167.5H973M952,188.5H973M952,209.5H973M952,230.5H973M952,251.5H973M952,272.5H973M952,293.5H973M952,314.5H973M952,335.5H973M952,356.5H973M952,377.5H973" fill="none" stroke="#000" stroke-width="1" shape-rendering="crispEdges"/>
</svg>
<div class="hdr t">LONGITUDE : 122W(-122)
LATITUDE : 36.8N
YEAR : 2006</div>
<div class="cb t" style="top:97.5px">230</div>
<div class="cb t" style="top:118.5px">220</div>
<div class="cb t" style="top:139.5px">210</div>
<div class="cb t" style="top:160.5px">200</div>
<div class="cb t" style="top:181.5px">190</div>
<div class="cb t" style="top:202.5px">180</div>
<div class="cb t" style="top:223.5px">170</div>
<div class="cb t" style="top:244.5px">160</div>
<div class="cb t" style="top:265.5px">150</div>
<div class="cb t" style="top:286.5px">140</div>
<div class="cb t" style="top:307.5px">130</div>
<div class="cb t" style="top:328.5px">120</div>
<div class="cb t" style="top:349.5px">110</div>
<div class="cb t" style="top:370.5px">100</div>
<div class="cb t" style="top:391.5px;padding-right:4px">90</div>
<div class="yl t" style="top:120px">50</div>
<div class="yl t" style="top:182px">150</div>
<div class="yl t" style="top:244px">250</div>
<div class="yl t" style="top:307px">350</div>
<div class="yl t" style="top:369px">450</div>
<div class="hl t" style="left:96px">00</div>
<div class="hl t" style="left:137px">06</div>
<div class="hl t" style="left:179px">12</div>
<div class="hl t" style="left:220px">18</div>
<div class="hl t" style="left:261px">00</div>
<div class="hl t" style="left:303px">06</div>
<div class="hl t" style="left:344px">12</div>
<div class="hl t" style="left:385px">18</div>
<div class="hl t" style="left:426px">00</div>
<div class="hl t" style="left:468px">06</div>
<div class="hl t" style="left:509px">12</div>
<div class="hl t" style="left:550px">18</div>
<div class="hl t" style="left:592px">00</div>
<div class="hl t" style="left:633px">06</div>
<div class="hl t" style="left:674px">12</div>
<div class="hl t" style="left:716px">18</div>
<div class="hl t" style="left:757px">00</div>
<div class="hl t" style="left:798px">06</div>
<div class="hl t" style="left:840px">12</div>
<div class="hl t" style="left:881px">18</div>
<div class="dl t" style="left:137px">JUN 17</div>
<div class="dl t" style="left:302px">JUN 18</div>
<div class="dl t" style="left:467px">JUN 19</div>
<div class="dl t" style="left:632px">JUN 20</div>
<div class="dl t" style="left:798px">JUN 21</div>
<div class="ylab t"><span>DEPTH (m)</span></div>
<div class="ttl t">Echo Intensity data per beam (Counts)</div>
</body></html>
